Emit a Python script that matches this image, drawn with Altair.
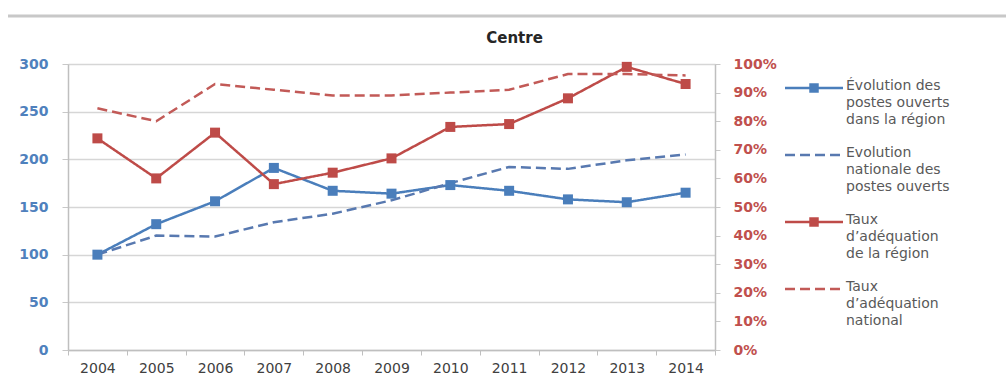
import altair as alt
import pandas as pd

# ---- data ----
years = ["2004", "2005", "2006", "2007", "2008", "2009", "2010", "2011", "2012", "2013", "2014"]
postes_region = [100, 132, 156, 191, 167, 164, 173, 167, 158, 155, 165]
postes_national = [100, 120, 119, 134, 143, 157, 175, 192, 190, 199, 205]
taux_region = [0.74, 0.60, 0.76, 0.58, 0.62, 0.67, 0.78, 0.79, 0.88, 0.99, 0.93]
taux_national = [0.845, 0.80, 0.93, 0.91, 0.89, 0.89, 0.90, 0.91, 0.965, 0.965, 0.96]

series_keys = ["postes_region", "postes_national", "taux_region", "taux_national"]
series_labels = [
    "Évolution des|postes ouverts|dans la région",
    "Evolution|nationale des|postes ouverts",
    "Taux|d’adéquation|de la région",
    "Taux|d’adéquation|national",
]

# ---- styles ----
series_colors = ["#4A7EBB", "#5879B0", "#BE4B48", "#C25A57"]
series_dashes = [[1, 0], [10, 5], [1, 0], [10, 5]]
FONT = "DejaVu Sans"

rows = []
for key, vals in zip(series_keys, [postes_region, postes_national, taux_region, taux_national]):
    for y, v in zip(years, vals):
        rows.append({"annee": y, "serie": key, "valeur": v})
df = pd.DataFrame(rows)
df_left = df[df["serie"].isin(series_keys[:2])]
df_right = df[df["serie"].isin(series_keys[2:])]
df_legend = pd.DataFrame({"serie": series_keys, "rang": [0, 1, 2, 3], "libelle": series_labels})

color_scale = alt.Scale(domain=series_keys, range=series_colors)
dash_scale = alt.Scale(domain=series_keys, range=series_dashes)
color_enc = alt.Color("serie:N", scale=color_scale, legend=None)
dash_enc = alt.StrokeDash("serie:N", scale=dash_scale, legend=None)

x_enc = alt.X(
    "annee:O",
    scale=alt.Scale(type="band", paddingInner=0, paddingOuter=0),
    axis=alt.Axis(
        title=None, labelAngle=0, tickBand="extent", grid=False,
        domainColor="#BFBFBF", tickColor="#BFBFBF", tickSize=5, domainWidth=1.5,
        labelFont=FONT, labelFontSize=14, labelColor="#404040", labelPadding=6,
    ),
)

y_left = alt.Y(
    "valeur:Q",
    scale=alt.Scale(domain=[0, 300]),
    axis=alt.Axis(
        orient="left", title=None, values=list(range(0, 301, 50)),
        labelFont=FONT, labelFontSize=14, labelFontWeight="bold", labelColor="#4F81BD",
        labelPadding=14, tickSize=6, tickColor="#C8C8C8", domainColor="#BFBFBF", domainWidth=1.5,
        grid=True, gridColor="#D6D6D6", gridWidth=1.5,
    ),
)
y_right = alt.Y(
    "valeur:Q",
    scale=alt.Scale(domain=[0, 1]),
    axis=alt.Axis(
        orient="right", title=None, values=[i / 10 for i in range(11)], format=".0%",
        labelFont=FONT, labelFontSize=14, labelFontWeight="bold", labelColor="#C0504D",
        labelPadding=13, tickSize=5, tickColor="#C8C8C8", domainColor="#BFBFBF", domainWidth=1.5,
        grid=False,
    ),
)

left_lines = alt.Chart(df_left).mark_line(strokeWidth=2.5).encode(
    x=x_enc, y=y_left, color=color_enc, strokeDash=dash_enc
)
left_pts = alt.Chart(df_left).transform_filter(
    alt.datum.serie == series_keys[0]
).mark_square(size=100, opacity=1).encode(x=x_enc, y=y_left, color=color_enc)

right_lines = alt.Chart(df_right).mark_line(strokeWidth=2.5).encode(
    x=x_enc, y=y_right, color=color_enc, strokeDash=dash_enc
)
right_pts = alt.Chart(df_right).transform_filter(
    alt.datum.serie == series_keys[2]
).mark_square(size=100, opacity=1).encode(x=x_enc, y=y_right, color=color_enc)

main = alt.layer(
    alt.layer(left_lines, left_pts),
    alt.layer(right_lines, right_pts),
).resolve_scale(y="independent")

# ---- legend (drawn from the legend table) ----
leg_y = alt.Y("rang:Q", scale=alt.Scale(domain=[0, 3], range=[24, 225]), axis=None)
leg_rule = alt.Chart(df_legend).mark_rule(strokeWidth=2.5).encode(
    x=alt.value(717), x2=alt.value(775), y=leg_y, color=color_enc, strokeDash=dash_enc
)
leg_sq = alt.Chart(df_legend).transform_filter(
    (alt.datum.serie == series_keys[0]) | (alt.datum.serie == series_keys[2])
).mark_square(size=90, opacity=1).encode(x=alt.value(746), y=leg_y, color=color_enc)
leg_txt = alt.Chart(df_legend).mark_text(
    align="left", baseline="top", lineBreak="|", dy=-9, font=FONT, fontSize=14,
    lineHeight=17, color="#595959",
).encode(x=alt.value(778), y=leg_y, text="libelle:N")
legend = alt.layer(leg_rule, leg_sq, leg_txt)

frame = alt.Chart(pd.DataFrame({"k": [0]})).mark_rule(color="#C8C8C8", strokeWidth=3).encode(
    x=alt.value(-60), x2=alt.value(938), y=alt.value(-48)
)

chart = alt.layer(main, legend, frame).resolve_scale(y="independent").properties(
    width=647,
    height=286,
    title=alt.TitleParams("Centre", font=FONT, fontSize=15, fontWeight="bold", color="#262626",
                          anchor="middle", dx=123, dy=45, offset=14),
    autosize=alt.AutoSizeParams(type="none"),
    padding={"left": 68, "top": 64, "right": 291, "bottom": 30},
).configure_view(stroke=None).configure(background="white")

chart.save("out.html", embed_options={"renderer": "svg", "actions": False})
